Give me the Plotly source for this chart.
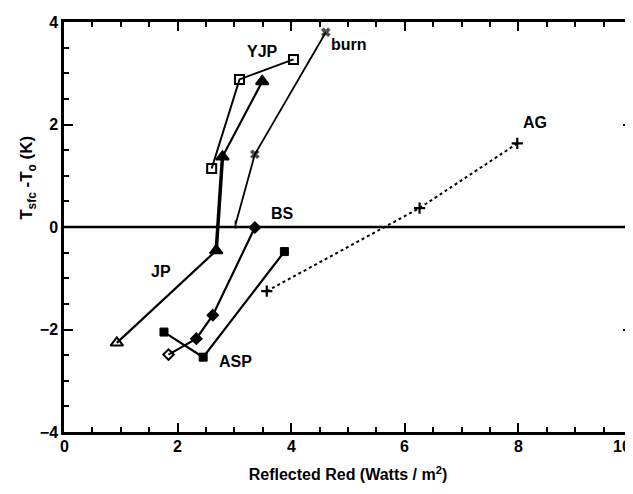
import plotly.graph_objects as go

# Data
burn_x = [4.61, 3.36, 3.02]
burn_y = [3.80, 1.42, 0.05]

yjp_x = [4.04, 3.09, 2.60]
yjp_y = [3.27, 2.88, 1.14]

jp_x = [3.49, 2.79, 2.68, 0.93]
jp_y = [2.84, 1.37, -0.46, -2.26]

bs_x = [3.36, 2.62, 2.33, 1.84]
bs_y = [-0.01, -1.72, -2.18, -2.49]

asp_x = [3.88, 2.45, 1.76]
asp_y = [-0.48, -2.54, -2.05]

ag_x = [7.98, 6.26, 3.57]
ag_y = [1.63, 0.37, -1.25]

labels = ["YJP", "burn", "JP", "BS", "ASP", "AG"]
label_x = [3.49, 5.01, 1.70, 3.84, 3.02, 8.30]
label_y = [3.42, 3.56, -0.86, 0.27, -2.63, 2.04]

x_tick_vals = [0, 2, 4, 6, 8, 10]
x_tick_text = ["0", "2", "4", "6", "8", "10"]

FONT = "Liberation Sans, Arial, Helvetica, sans-serif"
K = "black"

fig = go.Figure()

# zero line
fig.add_trace(go.Scatter(x=[0, 10], y=[0, 0], mode="lines",
                         line=dict(color=K, width=2.5), hoverinfo="skip"))

fig.add_trace(go.Scatter(x=burn_x, y=burn_y, mode="lines+markers",
                         line=dict(color=K, width=1.8),
                         marker=dict(symbol=["x", "x", "line-ns"], size=[8, 8, 6],
                                     color=K, line=dict(color=K, width=[0.5, 0.5, 2]))))

fig.add_trace(go.Scatter(x=yjp_x, y=yjp_y, mode="lines+markers",
                         line=dict(color=K, width=2),
                         marker=dict(symbol="square-open", size=9, color=K,
                                     line=dict(color=K, width=2))))

fig.add_trace(go.Scatter(x=jp_x[:3], y=jp_y[:3], mode="lines",
                         line=dict(color=K, width=2.2), hoverinfo="skip"))
fig.add_trace(go.Scatter(x=jp_x[2:], y=jp_y[2:], mode="lines",
                         line=dict(color=K, width=2.2), hoverinfo="skip"))
fig.add_trace(go.Scatter(x=jp_x[1:3], y=jp_y[1:3], mode="lines",
                         line=dict(color=K, width=3.5), hoverinfo="skip"))
fig.add_trace(go.Scatter(x=jp_x, y=jp_y, mode="markers",
                         marker=dict(symbol=["triangle-up", "triangle-up", "triangle-up", "triangle-up-open"],
                                     size=11, color=K, line=dict(color=K, width=2))))

fig.add_trace(go.Scatter(x=bs_x, y=bs_y, mode="lines+markers",
                         line=dict(color=K, width=2.2),
                         marker=dict(symbol=["diamond", "diamond", "diamond", "diamond-open"],
                                     size=8, color=K, line=dict(color=K, width=2))))

fig.add_trace(go.Scatter(x=asp_x, y=asp_y, mode="lines+markers",
                         line=dict(color=K, width=2.2),
                         marker=dict(symbol="square", size=8, color=K,
                                     line=dict(color=K, width=1))))

fig.add_trace(go.Scatter(x=ag_x, y=ag_y, mode="lines+markers",
                         line=dict(color=K, width=2, dash="dot"),
                         marker=dict(symbol="cross-thin", size=8, color=K,
                                     line=dict(color=K, width=2.2))))

for t, x, y in zip(labels, label_x, label_y):
    fig.add_annotation(x=x, y=y, text=t, showarrow=False,
                       font=dict(family=FONT, size=16, color=K, weight="bold"))

# x tick labels as text (the last one sits just inside the right edge)
for v, t in zip(x_tick_vals, x_tick_text):
    last = v == x_tick_vals[-1]
    fig.add_annotation(x=v, y=0, xref="x", yref="paper", text=t, showarrow=False,
                       xanchor="right" if last else "center", yanchor="top",
                       xshift=1 if last else 0, yshift=-4,
                       font=dict(family=FONT, size=16, color=K, weight="bold"))

# y axis title
fig.add_annotation(x=0, y=0.62, xref="paper", yref="paper", xshift=-36,
                   text="T<sub>sfc</sub> -T<sub>o</sub> (K)", textangle=-90, showarrow=False,
                   xanchor="center", yanchor="middle",
                   font=dict(family=FONT, size=17, color=K, weight="bold"))

axis_common = dict(showgrid=False, zeroline=False, showline=True, linecolor=K, linewidth=2.5,
                   mirror="allticks", ticks="inside", tickcolor=K, tickwidth=2, ticklen=9,
                   tickfont=dict(family=FONT, size=16, color=K, weight="bold"),
                   minor=dict(ticks="inside", ticklen=5, tickwidth=2, tickcolor=K, dtick=0.5,
                              showgrid=False))

fig.update_xaxes(range=[0, 10], dtick=2, tick0=0, showticklabels=False, **axis_common,
                 title=dict(text="Reflected Red (Watts / m<sup>2</sup>)", standoff=36,
                            font=dict(family=FONT, size=16, color=K, weight="bold")))
fig.update_yaxes(range=[-4, 4], dtick=2, tick0=0, **axis_common)

fig.update_layout(width=633, height=494, showlegend=False,
                  paper_bgcolor="white", plot_bgcolor="white",
                  margin=dict(l=56, r=6, t=13, b=70),
                  font=dict(family=FONT, color=K))

fig.write_html("out.html")
